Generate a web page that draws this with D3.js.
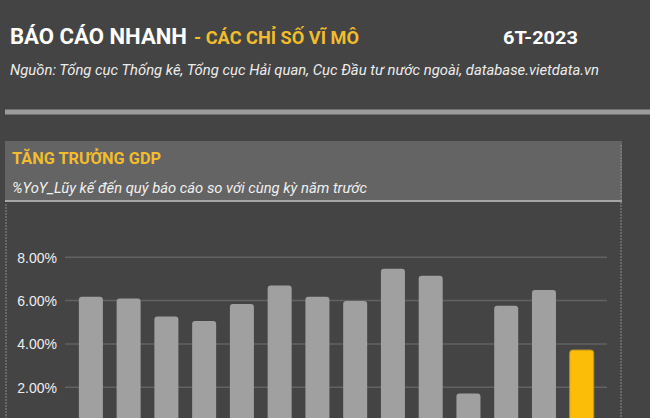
<!DOCTYPE html>
<html><head><meta charset="utf-8">
<script src="https://cdn.jsdelivr.net/npm/d3@7"></script>
<style>html,body{margin:0;padding:0;background:#444444;overflow:hidden}svg{display:block}</style>
</head><body>
<svg id="c" width="650" height="418"></svg>
<script>
// ---- data ----
const categories = ["2010","2011","2012","2013","2014","2015","2016","2017","2018","2019","2020","2021","2022","2023"];
const gdpGrowth = [6.18, 6.10, 5.26, 5.06, 5.84, 6.69, 6.18, 5.98, 7.47, 7.15, 1.72, 5.76, 6.49, 3.72];
const yTicks = [2, 4, 6, 8];
const highlightCategory = "2023";
const titleMain = "BÁO CÁO NHANH";
const titleSub = "- CÁC CHỈ SỐ VĨ MÔ";
const periodLabel = "6T-2023";
const sourceText = "Nguồn: Tổng cục Thống kê, Tổng cục Hải quan, Cục Đầu tư nước ngoài, database.vietdata.vn";
const panelTitle = "TĂNG TRƯỞNG GDP";
const panelSubtitle = "%YoY_Lũy kế đến quý báo cáo so với cùng kỳ năm trước";

const svg = d3.select("#c");
const W = 650, H = 418;
svg.append("rect").attr("width", W).attr("height", H).attr("fill", "#444444");

function fitText(sel, len) { sel.attr("textLength", len).attr("lengthAdjust", "spacingAndGlyphs"); return sel; }

// header
fitText(svg.append("text").attr("x", 10).attr("y", 44.3).attr("fill", "#ffffff")
  .attr("font-family", "Roboto").attr("font-weight", "bold").attr("font-size", 22.5).text(titleMain), 177);
fitText(svg.append("text").attr("x", 194).attr("y", 44.3).attr("fill", "#f2bd2c")
  .attr("font-family", "Roboto").attr("font-weight", "bold").attr("font-size", 18.5).text(titleSub), 165);
fitText(svg.append("text").attr("x", 503).attr("y", 44.3).attr("fill", "#ffffff")
  .attr("font-family", "Roboto").attr("font-weight", "bold").attr("font-size", 19).text(periodLabel), 75);
fitText(svg.append("text").attr("x", 10).attr("y", 75).attr("fill", "#ececec")
  .attr("font-family", "Roboto").attr("font-style", "italic").attr("font-size", 15).text(sourceText), 589);

svg.append("rect").attr("x", 5).attr("y", 109.5).attr("width", 645).attr("height", 5).attr("fill", "#9c9c9c");

// panel header
svg.append("rect").attr("x", 5).attr("y", 141).attr("width", 617).attr("height", 59).attr("fill", "#646464");
svg.append("rect").attr("x", 5).attr("y", 200).attr("width", 617).attr("height", 2).attr("fill", "#a6a6a6");
fitText(svg.append("text").attr("x", 12).attr("y", 164).attr("fill", "#f2bd2c")
  .attr("font-family", "Roboto").attr("font-weight", "bold").attr("font-size", 16.5).text(panelTitle), 149);
fitText(svg.append("text").attr("x", 12).attr("y", 193.3).attr("fill", "#f0f0f0")
  .attr("font-family", "Roboto").attr("font-style", "italic").attr("font-size", 15.5).text(panelSubtitle), 355);

// dashed panel borders
svg.append("line").attr("x1", 6).attr("x2", 6).attr("y1", 204).attr("y2", H)
  .attr("stroke", "#8a8a8a").attr("stroke-width", 1).attr("stroke-dasharray", "2,1");
svg.append("line").attr("x1", 621).attr("x2", 621).attr("y1", 145).attr("y2", H)
  .attr("stroke", "#8a8a8a").attr("stroke-width", 1).attr("stroke-dasharray", "2,1");

// scales
const y = d3.scaleLinear().domain([0, 8]).range([430.7, 257.2]);
const x = d3.scaleBand().domain(categories).range([72.0, 600.6]).paddingInner(0.364).paddingOuter(0.182);

// grid
svg.append("g").selectAll("line").data(yTicks).join("line")
  .attr("x1", 65).attr("x2", 607)
  .attr("y1", d => y(d)).attr("y2", d => y(d))
  .attr("stroke", "#626262").attr("stroke-width", 1.5);

// y axis labels
const yAxis = d3.axisLeft(y).tickValues(yTicks).tickSize(0).tickPadding(0)
  .tickFormat(d => d3.format(".2f")(d) + "%");
const ya = svg.append("g").attr("transform", "translate(57,0)").call(yAxis);
ya.select(".domain").remove();
ya.selectAll("text").attr("fill", "#eeeeee").attr("font-family", "Liberation Sans, Arial, sans-serif")
  .attr("font-size", 14).attr("dy", "0.36em");

// bars with rounded tops
const r = 3;
function barPath(d, i) {
  const x0 = x(categories[i]), w = x.bandwidth();
  const top = y(d), bot = y(0);
  return `M${x0},${bot}V${top + r}Q${x0},${top} ${x0 + r},${top}H${x0 + w - r}Q${x0 + w},${top} ${x0 + w},${top + r}V${bot}Z`;
}
svg.append("g").selectAll("path").data(gdpGrowth).join("path")
  .attr("d", barPath)
  .attr("fill", (d, i) => categories[i] === highlightCategory ? "#fbbd08" : "#a0a0a0")
  .attr("stroke", (d, i) => categories[i] === highlightCategory ? "#b8962a" : "none")
  .attr("stroke-width", 1);
</script>
</body></html>
